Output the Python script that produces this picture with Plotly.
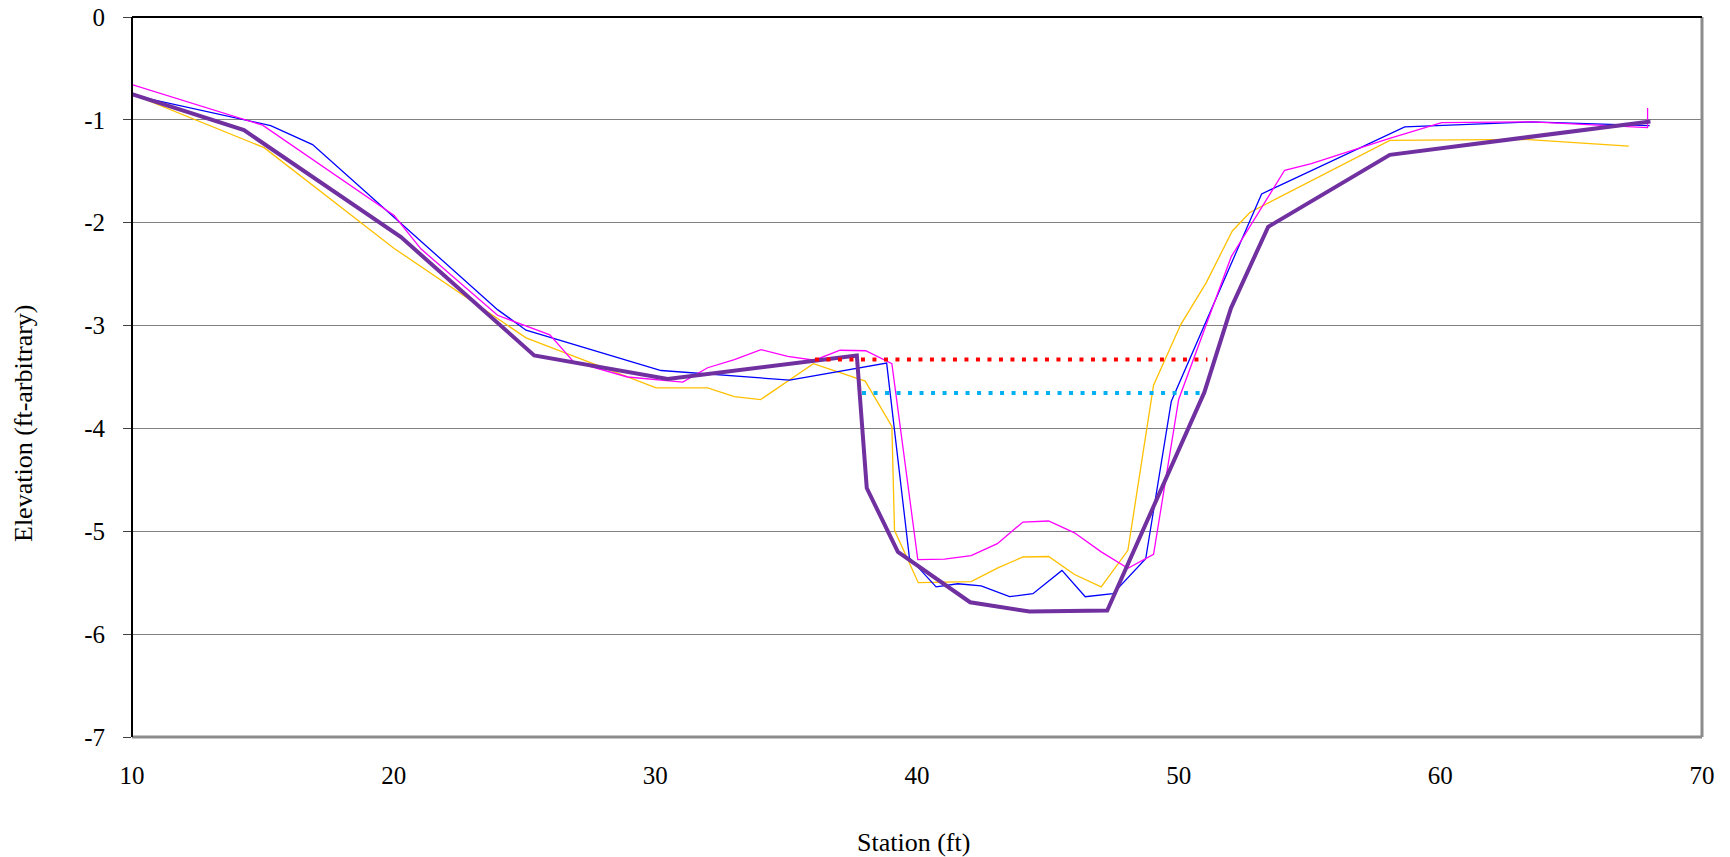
import plotly.graph_objects as go

# ---- data (station ft, elevation ft-arbitrary) ----
orange_x = [10.0, 15.05, 20.02, 25.06, 30.03, 32.0, 33.02, 34.02, 36.04, 38.02, 39.04, 39.14, 40.05, 42.07,
            43.09, 44.05, 45.03, 46.02, 47.04, 48.06, 49.04, 50.08, 51.06, 52.05, 52.72, 58.07, 63.23, 67.2]
orange_y = [-0.75, -1.27, -2.25, -3.12, -3.605, -3.605, -3.69, -3.72, -3.37, -3.54, -3.98, -4.99, -5.50, -5.49,
            -5.355, -5.25, -5.245, -5.42, -5.54, -5.185, -3.58, -2.99, -2.58, -2.08, -1.90, -1.20, -1.19, -1.256]

blue_x = [10.0, 15.3, 16.9, 23.97, 25.06, 30.22, 35.13, 38.84, 39.71, 40.73, 41.56, 42.45, 43.54, 44.43,
          45.54, 46.43, 47.49, 48.74, 49.72, 53.17, 58.64, 63.49, 68.0]
blue_y = [-0.76, -1.056, -1.24, -2.845, -3.045, -3.437, -3.53, -3.365, -5.258, -5.54, -5.51, -5.53, -5.636, -5.607,
          -5.38, -5.636, -5.607, -5.267, -3.735, -1.72, -1.068, -1.02, -1.056]

magenta_x = [10.0, 14.99, 20.02, 21.04, 23.97, 25.97, 26.87, 28.94, 31.05, 32.0, 33.02, 34.04, 35.06, 36.08,
             37.06, 38.04, 39.04, 40.03, 41.05, 42.07, 43.07, 44.05, 45.03, 46.02, 47.04, 48.06, 49.04, 50.0,
             52.01, 54.05, 55.07, 58.0, 60.05, 63.5, 67.92, 67.92]
magenta_y = [-0.657, -1.052, -1.93, -2.254, -2.90, -3.09, -3.35, -3.50, -3.55, -3.41, -3.33, -3.234, -3.30, -3.337,
             -3.24, -3.245, -3.37, -5.275, -5.27, -5.236, -5.12, -4.91, -4.90, -5.015, -5.20, -5.36, -5.225, -3.718,
             -2.33, -1.49, -1.425, -1.185, -1.027, -1.02, -1.075, -0.885]

purple_x = [10.0, 14.28, 20.28, 25.37, 30.47, 37.7, 38.08, 39.27, 42.03, 44.30, 47.27, 50.98, 52.0, 53.42, 58.07, 68.03]
purple_y = [-0.75, -1.10, -2.14, -3.29, -3.52, -3.29, -4.58, -5.20, -5.69, -5.78, -5.77, -3.65, -2.83, -2.04, -1.34, -1.015]

red_x = [36.1, 51.1]
red_y = [-3.33, -3.33]
cyan_x = [37.9, 50.8]
cyan_y = [-3.655, -3.655]

x_ticks = [10, 20, 30, 40, 50, 60, 70]
y_ticks = [0, -1, -2, -3, -4, -5, -6, -7]
y_ticktext = ["0", "-1", "-2", "-3", "-4", "-5", "-6", "-7"]

FONT = "Liberation Serif, Times New Roman, serif"

fig = go.Figure()
thin = 1.3
fig.add_trace(go.Scatter(x=orange_x, y=orange_y, mode="lines",
                         line=dict(color="#FFC000", width=thin, simplify=False), showlegend=False))
fig.add_trace(go.Scatter(x=blue_x, y=blue_y, mode="lines",
                         line=dict(color="#0000FF", width=thin, simplify=False), showlegend=False))
fig.add_trace(go.Scatter(x=magenta_x, y=magenta_y, mode="lines",
                         line=dict(color="#FF00FF", width=thin, simplify=False), showlegend=False))
fig.add_trace(go.Scatter(x=purple_x, y=purple_y, mode="lines",
                         line=dict(color="#7030A0", width=4, simplify=False), showlegend=False))
fig.add_trace(go.Scatter(x=red_x, y=red_y, mode="lines",
                         line=dict(color="#FF0000", width=4, dash="4px,7.5px"), showlegend=False))
fig.add_trace(go.Scatter(x=cyan_x, y=cyan_y, mode="lines",
                         line=dict(color="#00B0F0", width=4, dash="4px,7.5px"), showlegend=False))

fig.update_layout(
    width=1730, height=857,
    margin=dict(l=132, r=28, t=17, b=120),
    paper_bgcolor="white", plot_bgcolor="white",
    font=dict(family=FONT, size=25, color="black"),
    xaxis=dict(range=[10, 70], tickvals=x_ticks, showgrid=False, zeroline=False, showline=False,
               automargin=False,
               ticks="", ticklabelstandoff=21, tickfont=dict(family=FONT, size=25, color="black")),
    yaxis=dict(range=[-7, 0], tickvals=y_ticks, ticktext=y_ticktext, showgrid=True,
               gridcolor="#808080", gridwidth=1, zeroline=False, showline=False,
               automargin=False,
               ticks="outside", ticklen=8, tickcolor="#404040", tickwidth=1,
               ticklabelstandoff=13, tickfont=dict(family=FONT, size=25, color="black")),
    shapes=[
        dict(type="line", xref="paper", yref="paper", x0=0, x1=1, y0=0, y1=0,
             line=dict(color="#8C8C8C", width=3)),
        dict(type="line", xref="paper", yref="paper", x0=1, x1=1, y0=0, y1=1,
             line=dict(color="#8C8C8C", width=3)),
        dict(type="line", xref="paper", yref="paper", x0=0, x1=1, y0=1, y1=1,
             line=dict(color="black", width=2)),
        dict(type="line", xref="paper", yref="paper", x0=0, x1=0, y0=0, y1=1,
             line=dict(color="black", width=2)),
    ],
    annotations=[
        dict(text="Elevation (ft-arbitrary)", xref="paper", yref="paper",
             x=(23 - 132) / 1570, y=(737 - 423) / 720, xanchor="center", yanchor="middle",
             textangle=-90, showarrow=False, font=dict(family=FONT, size=26, color="black")),
        dict(text="Station (ft)", xref="paper", yref="paper",
             x=(913 - 132) / 1570, y=(737 - 842) / 720, xanchor="center", yanchor="middle",
             showarrow=False, font=dict(family=FONT, size=26, color="black")),
    ],
)

fig.write_html("out.html", config={"displayModeBar": False},
               post_script="document.body.style.margin='0px';")
